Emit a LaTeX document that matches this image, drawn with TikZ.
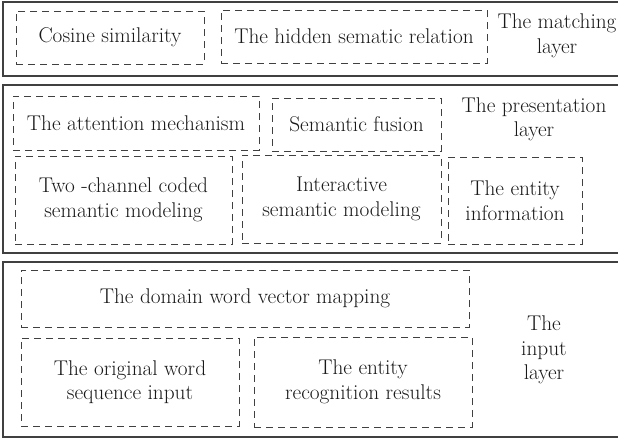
\documentclass[tikz,border=0pt]{standalone}
\usepackage{tikz}

\tikzset{
    layerframe/.style={draw=black!75, line width=1.5pt},
    partbox/.style={draw=black!75, dash pattern=on 7pt off 5pt, line width=0.9pt, inner sep=0pt, align=center},
    layerlabel/.style={align=center, inner sep=0pt}
}

\begin{document}
\begin{tikzpicture}[x=1pt, y=-1pt, font=\fontsize{21.3}{24.5}\selectfont, text=black!90]
    \useasboundingbox (0,0) rectangle (618,439);
    % the three layers
    \draw[layerframe] (3,2) rectangle (619,76);
    \draw[layerframe] (3,85) rectangle (619,253);
    \draw[layerframe] (3,262) rectangle (619,437);

    % matching layer
    \node[partbox, minimum width=188pt, minimum height=53pt] (cosine) at (110,37.5) {Cosine similarity};
    \node[partbox, minimum width=266pt, minimum height=53pt] (hidden) at (354,36.5) {The hidden sematic relation};
    \node[layerlabel] (matching) at (557,36) {The matching\\layer};

    % presentation layer
    \node[partbox, minimum width=246pt, minimum height=54pt] (attention) at (136,123) {The attention mechanism};
    \node[partbox, minimum width=169pt, minimum height=53pt] (fusion) at (356.5,124.5) {Semantic fusion};
    \node[layerlabel] (presentation) at (534,119.5) {The presentation\\layer};
    \node[partbox, minimum width=217pt, minimum height=88pt] (twochannel) at (123.5,200) {Two -channel coded\\semantic modeling};
    \node[partbox, minimum width=199pt, minimum height=88pt] (interactive) at (341.5,199) {Interactive\\semantic modeling};
    \node[partbox, minimum width=134pt, minimum height=87pt] (entityinfo) at (515,200.5) {The entity\\information};

    % input layer
    \node[partbox, minimum width=448pt, minimum height=57pt] (domain) at (245,298.5) {The domain word vector mapping};
    \node[partbox, minimum width=218pt, minimum height=88pt] (original) at (130,382) {The original word\\sequence input};
    \node[partbox, minimum width=218pt, minimum height=90pt] (recognition) at (363,382) {The entity\\recognition results};
    \node[layerlabel] (input) at (544,350) {The\\input\\layer};
\end{tikzpicture}
\end{document}
